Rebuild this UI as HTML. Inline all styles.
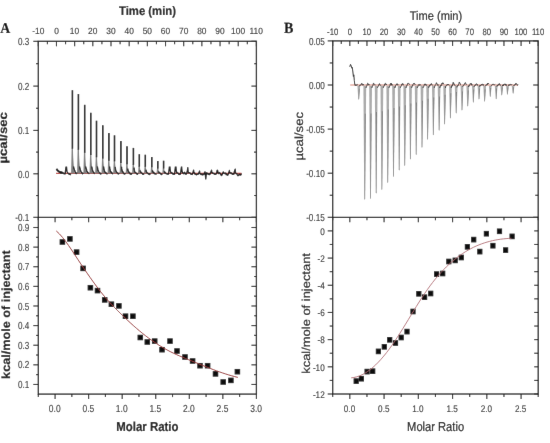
<!DOCTYPE html>
<html><head><meta charset="utf-8"><style>
html,body{margin:0;padding:0;background:#fff;}
body{width:550px;height:443px;overflow:hidden;}
svg{display:block;will-change:transform;text-rendering:geometricPrecision;font-family:"Liberation Sans", sans-serif;}
</style></head><body>
<svg width="550" height="443" viewBox="0 0 550 443">
<defs><filter id="soft" x="0" y="0" width="550" height="443" filterUnits="userSpaceOnUse"><feConvolveMatrix order="3" kernelMatrix="0.0028 0.0470 0.0028 0.0470 0.8008 0.0470 0.0028 0.0470 0.0028" edgeMode="duplicate" preserveAlpha="true"/></filter></defs>
<rect width="550" height="443" fill="#fff"/>
<g filter="url(#soft)">
<rect width="550" height="443" fill="#fff"/>
<rect x="38.3" y="41.3" width="218.1" height="352.8" fill="none" stroke="#222222" stroke-width="1.3"/>
<line x1="38.3" y1="217.3" x2="256.4" y2="217.3" stroke="#222222" stroke-width="1.3"/>
<line x1="38.3" y1="41.3" x2="38.3" y2="46.3" stroke="#222222" stroke-width="1.1"/>
<line x1="47.39" y1="41.3" x2="47.39" y2="44.3" stroke="#222222" stroke-width="1.1"/>
<line x1="56.47" y1="41.3" x2="56.47" y2="46.3" stroke="#222222" stroke-width="1.1"/>
<line x1="65.56" y1="41.3" x2="65.56" y2="44.3" stroke="#222222" stroke-width="1.1"/>
<line x1="74.65" y1="41.3" x2="74.65" y2="46.3" stroke="#222222" stroke-width="1.1"/>
<line x1="83.74" y1="41.3" x2="83.74" y2="44.3" stroke="#222222" stroke-width="1.1"/>
<line x1="92.82" y1="41.3" x2="92.82" y2="46.3" stroke="#222222" stroke-width="1.1"/>
<line x1="101.91" y1="41.3" x2="101.91" y2="44.3" stroke="#222222" stroke-width="1.1"/>
<line x1="111" y1="41.3" x2="111" y2="46.3" stroke="#222222" stroke-width="1.1"/>
<line x1="120.09" y1="41.3" x2="120.09" y2="44.3" stroke="#222222" stroke-width="1.1"/>
<line x1="129.17" y1="41.3" x2="129.17" y2="46.3" stroke="#222222" stroke-width="1.1"/>
<line x1="138.26" y1="41.3" x2="138.26" y2="44.3" stroke="#222222" stroke-width="1.1"/>
<line x1="147.35" y1="41.3" x2="147.35" y2="46.3" stroke="#222222" stroke-width="1.1"/>
<line x1="156.44" y1="41.3" x2="156.44" y2="44.3" stroke="#222222" stroke-width="1.1"/>
<line x1="165.52" y1="41.3" x2="165.52" y2="46.3" stroke="#222222" stroke-width="1.1"/>
<line x1="174.61" y1="41.3" x2="174.61" y2="44.3" stroke="#222222" stroke-width="1.1"/>
<line x1="183.7" y1="41.3" x2="183.7" y2="46.3" stroke="#222222" stroke-width="1.1"/>
<line x1="192.79" y1="41.3" x2="192.79" y2="44.3" stroke="#222222" stroke-width="1.1"/>
<line x1="201.87" y1="41.3" x2="201.87" y2="46.3" stroke="#222222" stroke-width="1.1"/>
<line x1="210.96" y1="41.3" x2="210.96" y2="44.3" stroke="#222222" stroke-width="1.1"/>
<line x1="220.05" y1="41.3" x2="220.05" y2="46.3" stroke="#222222" stroke-width="1.1"/>
<line x1="229.14" y1="41.3" x2="229.14" y2="44.3" stroke="#222222" stroke-width="1.1"/>
<line x1="238.22" y1="41.3" x2="238.22" y2="46.3" stroke="#222222" stroke-width="1.1"/>
<line x1="247.31" y1="41.3" x2="247.31" y2="44.3" stroke="#222222" stroke-width="1.1"/>
<line x1="256.4" y1="41.3" x2="256.4" y2="46.3" stroke="#222222" stroke-width="1.1"/>
<text transform="translate(32.21,34.3) scale(0.9300,1)" font-size="9" fill="#333333" stroke="#333333" stroke-width="0.12" font-weight="normal">-10</text>
<text transform="translate(54.13,34.3) scale(0.9300,1)" font-size="9" fill="#333333" stroke="#333333" stroke-width="0.12" font-weight="normal">0</text>
<text transform="translate(69.84,34.3) scale(0.9300,1)" font-size="9" fill="#333333" stroke="#333333" stroke-width="0.12" font-weight="normal">10</text>
<text transform="translate(88.12,34.3) scale(0.9300,1)" font-size="9" fill="#333333" stroke="#333333" stroke-width="0.12" font-weight="normal">20</text>
<text transform="translate(106.33,34.3) scale(0.9300,1)" font-size="9" fill="#333333" stroke="#333333" stroke-width="0.12" font-weight="normal">30</text>
<text transform="translate(124.59,34.3) scale(0.9300,1)" font-size="9" fill="#333333" stroke="#333333" stroke-width="0.12" font-weight="normal">40</text>
<text transform="translate(142.68,34.3) scale(0.9300,1)" font-size="9" fill="#333333" stroke="#333333" stroke-width="0.12" font-weight="normal">50</text>
<text transform="translate(160.82,34.3) scale(0.9300,1)" font-size="9" fill="#333333" stroke="#333333" stroke-width="0.12" font-weight="normal">60</text>
<text transform="translate(178.99,34.3) scale(0.9300,1)" font-size="9" fill="#333333" stroke="#333333" stroke-width="0.12" font-weight="normal">70</text>
<text transform="translate(197.19,34.3) scale(0.9300,1)" font-size="9" fill="#333333" stroke="#333333" stroke-width="0.12" font-weight="normal">80</text>
<text transform="translate(215.36,34.3) scale(0.9300,1)" font-size="9" fill="#333333" stroke="#333333" stroke-width="0.12" font-weight="normal">90</text>
<text transform="translate(231.09,34.3) scale(0.9300,1)" font-size="9" fill="#333333" stroke="#333333" stroke-width="0.12" font-weight="normal">100</text>
<text transform="translate(249.56,34.3) scale(0.9300,1)" font-size="9" fill="#333333" stroke="#333333" stroke-width="0.12" font-weight="normal">110</text>
<line x1="33.3" y1="41.3" x2="38.3" y2="41.3" stroke="#222222" stroke-width="1.1"/>
<line x1="251.4" y1="41.3" x2="256.4" y2="41.3" stroke="#222222" stroke-width="1.1"/>
<line x1="36" y1="63.7" x2="38.3" y2="63.7" stroke="#222222" stroke-width="1.1"/>
<line x1="254.1" y1="63.7" x2="256.4" y2="63.7" stroke="#222222" stroke-width="1.1"/>
<line x1="33.3" y1="86.1" x2="38.3" y2="86.1" stroke="#222222" stroke-width="1.1"/>
<line x1="251.4" y1="86.1" x2="256.4" y2="86.1" stroke="#222222" stroke-width="1.1"/>
<line x1="36" y1="108.25" x2="38.3" y2="108.25" stroke="#222222" stroke-width="1.1"/>
<line x1="254.1" y1="108.25" x2="256.4" y2="108.25" stroke="#222222" stroke-width="1.1"/>
<line x1="33.3" y1="130.4" x2="38.3" y2="130.4" stroke="#222222" stroke-width="1.1"/>
<line x1="251.4" y1="130.4" x2="256.4" y2="130.4" stroke="#222222" stroke-width="1.1"/>
<line x1="36" y1="152.1" x2="38.3" y2="152.1" stroke="#222222" stroke-width="1.1"/>
<line x1="254.1" y1="152.1" x2="256.4" y2="152.1" stroke="#222222" stroke-width="1.1"/>
<line x1="33.3" y1="173.8" x2="38.3" y2="173.8" stroke="#222222" stroke-width="1.1"/>
<line x1="251.4" y1="173.8" x2="256.4" y2="173.8" stroke="#222222" stroke-width="1.1"/>
<line x1="36" y1="195.55" x2="38.3" y2="195.55" stroke="#222222" stroke-width="1.1"/>
<line x1="254.1" y1="195.55" x2="256.4" y2="195.55" stroke="#222222" stroke-width="1.1"/>
<line x1="33.3" y1="217.3" x2="38.3" y2="217.3" stroke="#222222" stroke-width="1.1"/>
<line x1="251.4" y1="217.3" x2="256.4" y2="217.3" stroke="#222222" stroke-width="1.1"/>
<text transform="translate(18.05,45.32) scale(0.8000,1)" font-size="10.2" fill="#333333" stroke="#333333" stroke-width="0.12" font-weight="normal">0.3</text>
<text transform="translate(18.05,90.12) scale(0.8000,1)" font-size="10.2" fill="#333333" stroke="#333333" stroke-width="0.12" font-weight="normal">0.2</text>
<text transform="translate(18.05,134.42) scale(0.8000,1)" font-size="10.2" fill="#333333" stroke="#333333" stroke-width="0.12" font-weight="normal">0.1</text>
<text transform="translate(18.05,177.82) scale(0.8000,1)" font-size="10.2" fill="#333333" stroke="#333333" stroke-width="0.12" font-weight="normal">0.0</text>
<text transform="translate(15.36,221.32) scale(0.8000,1)" font-size="10.2" fill="#333333" stroke="#333333" stroke-width="0.12" font-weight="normal">-0.1</text>
<line x1="38.3" y1="217.3" x2="38.3" y2="220.3" stroke="#222222" stroke-width="1.1"/>
<line x1="38.3" y1="394.1" x2="38.3" y2="397.1" stroke="#222222" stroke-width="1.1"/>
<line x1="55.08" y1="217.3" x2="55.08" y2="222.3" stroke="#222222" stroke-width="1.1"/>
<line x1="55.08" y1="394.1" x2="55.08" y2="399.1" stroke="#222222" stroke-width="1.1"/>
<line x1="71.85" y1="217.3" x2="71.85" y2="220.3" stroke="#222222" stroke-width="1.1"/>
<line x1="71.85" y1="394.1" x2="71.85" y2="397.1" stroke="#222222" stroke-width="1.1"/>
<line x1="88.63" y1="217.3" x2="88.63" y2="222.3" stroke="#222222" stroke-width="1.1"/>
<line x1="88.63" y1="394.1" x2="88.63" y2="399.1" stroke="#222222" stroke-width="1.1"/>
<line x1="105.41" y1="217.3" x2="105.41" y2="220.3" stroke="#222222" stroke-width="1.1"/>
<line x1="105.41" y1="394.1" x2="105.41" y2="397.1" stroke="#222222" stroke-width="1.1"/>
<line x1="122.18" y1="217.3" x2="122.18" y2="222.3" stroke="#222222" stroke-width="1.1"/>
<line x1="122.18" y1="394.1" x2="122.18" y2="399.1" stroke="#222222" stroke-width="1.1"/>
<line x1="138.96" y1="217.3" x2="138.96" y2="220.3" stroke="#222222" stroke-width="1.1"/>
<line x1="138.96" y1="394.1" x2="138.96" y2="397.1" stroke="#222222" stroke-width="1.1"/>
<line x1="155.74" y1="217.3" x2="155.74" y2="222.3" stroke="#222222" stroke-width="1.1"/>
<line x1="155.74" y1="394.1" x2="155.74" y2="399.1" stroke="#222222" stroke-width="1.1"/>
<line x1="172.52" y1="217.3" x2="172.52" y2="220.3" stroke="#222222" stroke-width="1.1"/>
<line x1="172.52" y1="394.1" x2="172.52" y2="397.1" stroke="#222222" stroke-width="1.1"/>
<line x1="189.29" y1="217.3" x2="189.29" y2="222.3" stroke="#222222" stroke-width="1.1"/>
<line x1="189.29" y1="394.1" x2="189.29" y2="399.1" stroke="#222222" stroke-width="1.1"/>
<line x1="206.07" y1="217.3" x2="206.07" y2="220.3" stroke="#222222" stroke-width="1.1"/>
<line x1="206.07" y1="394.1" x2="206.07" y2="397.1" stroke="#222222" stroke-width="1.1"/>
<line x1="222.85" y1="217.3" x2="222.85" y2="222.3" stroke="#222222" stroke-width="1.1"/>
<line x1="222.85" y1="394.1" x2="222.85" y2="399.1" stroke="#222222" stroke-width="1.1"/>
<line x1="239.62" y1="217.3" x2="239.62" y2="220.3" stroke="#222222" stroke-width="1.1"/>
<line x1="239.62" y1="394.1" x2="239.62" y2="397.1" stroke="#222222" stroke-width="1.1"/>
<line x1="256.4" y1="217.3" x2="256.4" y2="222.3" stroke="#222222" stroke-width="1.1"/>
<line x1="256.4" y1="394.1" x2="256.4" y2="399.1" stroke="#222222" stroke-width="1.1"/>
<line x1="33.3" y1="227.5" x2="38.3" y2="227.5" stroke="#222222" stroke-width="1.1"/>
<line x1="251.4" y1="227.5" x2="256.4" y2="227.5" stroke="#222222" stroke-width="1.1"/>
<line x1="36" y1="237.31" x2="38.3" y2="237.31" stroke="#222222" stroke-width="1.1"/>
<line x1="254.1" y1="237.31" x2="256.4" y2="237.31" stroke="#222222" stroke-width="1.1"/>
<line x1="33.3" y1="247.12" x2="38.3" y2="247.12" stroke="#222222" stroke-width="1.1"/>
<line x1="251.4" y1="247.12" x2="256.4" y2="247.12" stroke="#222222" stroke-width="1.1"/>
<line x1="36" y1="256.93" x2="38.3" y2="256.93" stroke="#222222" stroke-width="1.1"/>
<line x1="254.1" y1="256.93" x2="256.4" y2="256.93" stroke="#222222" stroke-width="1.1"/>
<line x1="33.3" y1="266.74" x2="38.3" y2="266.74" stroke="#222222" stroke-width="1.1"/>
<line x1="251.4" y1="266.74" x2="256.4" y2="266.74" stroke="#222222" stroke-width="1.1"/>
<line x1="36" y1="276.55" x2="38.3" y2="276.55" stroke="#222222" stroke-width="1.1"/>
<line x1="254.1" y1="276.55" x2="256.4" y2="276.55" stroke="#222222" stroke-width="1.1"/>
<line x1="33.3" y1="286.36" x2="38.3" y2="286.36" stroke="#222222" stroke-width="1.1"/>
<line x1="251.4" y1="286.36" x2="256.4" y2="286.36" stroke="#222222" stroke-width="1.1"/>
<line x1="36" y1="296.17" x2="38.3" y2="296.17" stroke="#222222" stroke-width="1.1"/>
<line x1="254.1" y1="296.17" x2="256.4" y2="296.17" stroke="#222222" stroke-width="1.1"/>
<line x1="33.3" y1="305.98" x2="38.3" y2="305.98" stroke="#222222" stroke-width="1.1"/>
<line x1="251.4" y1="305.98" x2="256.4" y2="305.98" stroke="#222222" stroke-width="1.1"/>
<line x1="36" y1="315.79" x2="38.3" y2="315.79" stroke="#222222" stroke-width="1.1"/>
<line x1="254.1" y1="315.79" x2="256.4" y2="315.79" stroke="#222222" stroke-width="1.1"/>
<line x1="33.3" y1="325.6" x2="38.3" y2="325.6" stroke="#222222" stroke-width="1.1"/>
<line x1="251.4" y1="325.6" x2="256.4" y2="325.6" stroke="#222222" stroke-width="1.1"/>
<line x1="36" y1="335.41" x2="38.3" y2="335.41" stroke="#222222" stroke-width="1.1"/>
<line x1="254.1" y1="335.41" x2="256.4" y2="335.41" stroke="#222222" stroke-width="1.1"/>
<line x1="33.3" y1="345.22" x2="38.3" y2="345.22" stroke="#222222" stroke-width="1.1"/>
<line x1="251.4" y1="345.22" x2="256.4" y2="345.22" stroke="#222222" stroke-width="1.1"/>
<line x1="36" y1="355.03" x2="38.3" y2="355.03" stroke="#222222" stroke-width="1.1"/>
<line x1="254.1" y1="355.03" x2="256.4" y2="355.03" stroke="#222222" stroke-width="1.1"/>
<line x1="33.3" y1="364.84" x2="38.3" y2="364.84" stroke="#222222" stroke-width="1.1"/>
<line x1="251.4" y1="364.84" x2="256.4" y2="364.84" stroke="#222222" stroke-width="1.1"/>
<line x1="36" y1="374.65" x2="38.3" y2="374.65" stroke="#222222" stroke-width="1.1"/>
<line x1="254.1" y1="374.65" x2="256.4" y2="374.65" stroke="#222222" stroke-width="1.1"/>
<line x1="33.3" y1="384.46" x2="38.3" y2="384.46" stroke="#222222" stroke-width="1.1"/>
<line x1="251.4" y1="384.46" x2="256.4" y2="384.46" stroke="#222222" stroke-width="1.1"/>
<text transform="translate(18.05,231.12) scale(0.8000,1)" font-size="10.2" fill="#333333" stroke="#333333" stroke-width="0.12" font-weight="normal">0.9</text>
<text transform="translate(18.05,250.74) scale(0.8000,1)" font-size="10.2" fill="#333333" stroke="#333333" stroke-width="0.12" font-weight="normal">0.8</text>
<text transform="translate(18.05,270.36) scale(0.8000,1)" font-size="10.2" fill="#333333" stroke="#333333" stroke-width="0.12" font-weight="normal">0.7</text>
<text transform="translate(18.05,289.98) scale(0.8000,1)" font-size="10.2" fill="#333333" stroke="#333333" stroke-width="0.12" font-weight="normal">0.6</text>
<text transform="translate(18.05,309.6) scale(0.8000,1)" font-size="10.2" fill="#333333" stroke="#333333" stroke-width="0.12" font-weight="normal">0.5</text>
<text transform="translate(18.05,329.22) scale(0.8000,1)" font-size="10.2" fill="#333333" stroke="#333333" stroke-width="0.12" font-weight="normal">0.4</text>
<text transform="translate(18.05,348.84) scale(0.8000,1)" font-size="10.2" fill="#333333" stroke="#333333" stroke-width="0.12" font-weight="normal">0.3</text>
<text transform="translate(18.05,368.46) scale(0.8000,1)" font-size="10.2" fill="#333333" stroke="#333333" stroke-width="0.12" font-weight="normal">0.2</text>
<text transform="translate(18.05,388.08) scale(0.8000,1)" font-size="10.2" fill="#333333" stroke="#333333" stroke-width="0.12" font-weight="normal">0.1</text>
<text transform="translate(48.87,411.72) scale(0.8300,1)" font-size="10.2" fill="#333333" stroke="#333333" stroke-width="0.12" font-weight="normal">0.0</text>
<text transform="translate(82.45,411.72) scale(0.8300,1)" font-size="10.2" fill="#333333" stroke="#333333" stroke-width="0.12" font-weight="normal">0.5</text>
<text transform="translate(115.83,411.72) scale(0.8300,1)" font-size="10.2" fill="#333333" stroke="#333333" stroke-width="0.12" font-weight="normal">1.0</text>
<text transform="translate(149.41,411.67) scale(0.8300,1)" font-size="10.2" fill="#333333" stroke="#333333" stroke-width="0.12" font-weight="normal">1.5</text>
<text transform="translate(183.04,411.72) scale(0.8300,1)" font-size="10.2" fill="#333333" stroke="#333333" stroke-width="0.12" font-weight="normal">2.0</text>
<text transform="translate(216.62,411.72) scale(0.8300,1)" font-size="10.2" fill="#333333" stroke="#333333" stroke-width="0.12" font-weight="normal">2.5</text>
<text transform="translate(250.19,411.72) scale(0.8300,1)" font-size="10.2" fill="#333333" stroke="#333333" stroke-width="0.12" font-weight="normal">3.0</text>
<text transform="translate(118.99,14.5) scale(0.9123,1)" font-family='"Liberation Sans", sans-serif' font-weight="bold" font-size="12.41" fill="#1a1a1a" stroke="#1a1a1a" stroke-width="0.2">Time (min)</text>
<text transform="translate(116.26,431.4) scale(0.8732,1)" font-family='"Liberation Sans", sans-serif' font-weight="bold" font-size="13.1" fill="#1a1a1a" stroke="#1a1a1a" stroke-width="0.2">Molar Ratio</text>
<text transform="translate(7.1,163.56) rotate(-90) scale(1,0.8930)" font-family='"Liberation Sans", sans-serif' font-weight="bold" font-size="13.16" fill="#1a1a1a" stroke="#1a1a1a" stroke-width="0.2">µcal/sec</text>
<text transform="translate(10.2,378.89) rotate(-90) scale(1,0.9312)" font-family='"Liberation Sans", sans-serif' font-weight="bold" font-size="12.67" fill="#1a1a1a" stroke="#1a1a1a" stroke-width="0.2">kcal/mole of injectant</text>
<text transform="translate(0.31,32.7) scale(0.9128,1)" font-family='"Liberation Serif", serif' font-weight="bold" font-size="15.15" fill="#111" stroke="#111" stroke-width="0.2">A</text>
<rect x="332.7" y="40.9" width="205.5" height="353.1" fill="none" stroke="#222222" stroke-width="1.3"/>
<line x1="332.7" y1="217.3" x2="538.2" y2="217.3" stroke="#222222" stroke-width="1.3"/>
<line x1="332.7" y1="40.9" x2="332.7" y2="45.9" stroke="#222222" stroke-width="1.1"/>
<line x1="341.26" y1="40.9" x2="341.26" y2="43.9" stroke="#222222" stroke-width="1.1"/>
<line x1="349.82" y1="40.9" x2="349.82" y2="45.9" stroke="#222222" stroke-width="1.1"/>
<line x1="358.39" y1="40.9" x2="358.39" y2="43.9" stroke="#222222" stroke-width="1.1"/>
<line x1="366.95" y1="40.9" x2="366.95" y2="45.9" stroke="#222222" stroke-width="1.1"/>
<line x1="375.51" y1="40.9" x2="375.51" y2="43.9" stroke="#222222" stroke-width="1.1"/>
<line x1="384.07" y1="40.9" x2="384.07" y2="45.9" stroke="#222222" stroke-width="1.1"/>
<line x1="392.64" y1="40.9" x2="392.64" y2="43.9" stroke="#222222" stroke-width="1.1"/>
<line x1="401.2" y1="40.9" x2="401.2" y2="45.9" stroke="#222222" stroke-width="1.1"/>
<line x1="409.76" y1="40.9" x2="409.76" y2="43.9" stroke="#222222" stroke-width="1.1"/>
<line x1="418.33" y1="40.9" x2="418.33" y2="45.9" stroke="#222222" stroke-width="1.1"/>
<line x1="426.89" y1="40.9" x2="426.89" y2="43.9" stroke="#222222" stroke-width="1.1"/>
<line x1="435.45" y1="40.9" x2="435.45" y2="45.9" stroke="#222222" stroke-width="1.1"/>
<line x1="444.01" y1="40.9" x2="444.01" y2="43.9" stroke="#222222" stroke-width="1.1"/>
<line x1="452.58" y1="40.9" x2="452.58" y2="45.9" stroke="#222222" stroke-width="1.1"/>
<line x1="461.14" y1="40.9" x2="461.14" y2="43.9" stroke="#222222" stroke-width="1.1"/>
<line x1="469.7" y1="40.9" x2="469.7" y2="45.9" stroke="#222222" stroke-width="1.1"/>
<line x1="478.26" y1="40.9" x2="478.26" y2="43.9" stroke="#222222" stroke-width="1.1"/>
<line x1="486.83" y1="40.9" x2="486.83" y2="45.9" stroke="#222222" stroke-width="1.1"/>
<line x1="495.39" y1="40.9" x2="495.39" y2="43.9" stroke="#222222" stroke-width="1.1"/>
<line x1="503.95" y1="40.9" x2="503.95" y2="45.9" stroke="#222222" stroke-width="1.1"/>
<line x1="512.51" y1="40.9" x2="512.51" y2="43.9" stroke="#222222" stroke-width="1.1"/>
<line x1="521.08" y1="40.9" x2="521.08" y2="45.9" stroke="#222222" stroke-width="1.1"/>
<line x1="529.64" y1="40.9" x2="529.64" y2="43.9" stroke="#222222" stroke-width="1.1"/>
<line x1="538.2" y1="40.9" x2="538.2" y2="45.9" stroke="#222222" stroke-width="1.1"/>
<text transform="translate(327.08,35.41) scale(0.8300,1)" font-size="9.3" fill="#333333" stroke="#333333" stroke-width="0.12" font-weight="normal">-10</text>
<text transform="translate(347.66,35.41) scale(0.8300,1)" font-size="9.3" fill="#333333" stroke="#333333" stroke-width="0.12" font-weight="normal">0</text>
<text transform="translate(362.51,35.41) scale(0.8300,1)" font-size="9.3" fill="#333333" stroke="#333333" stroke-width="0.12" font-weight="normal">10</text>
<text transform="translate(379.73,35.41) scale(0.8300,1)" font-size="9.3" fill="#333333" stroke="#333333" stroke-width="0.12" font-weight="normal">20</text>
<text transform="translate(396.9,35.41) scale(0.8300,1)" font-size="9.3" fill="#333333" stroke="#333333" stroke-width="0.12" font-weight="normal">30</text>
<text transform="translate(414.1,35.41) scale(0.8300,1)" font-size="9.3" fill="#333333" stroke="#333333" stroke-width="0.12" font-weight="normal">40</text>
<text transform="translate(431.15,35.41) scale(0.8300,1)" font-size="9.3" fill="#333333" stroke="#333333" stroke-width="0.12" font-weight="normal">50</text>
<text transform="translate(448.23,35.41) scale(0.8300,1)" font-size="9.3" fill="#333333" stroke="#333333" stroke-width="0.12" font-weight="normal">60</text>
<text transform="translate(465.36,35.41) scale(0.8300,1)" font-size="9.3" fill="#333333" stroke="#333333" stroke-width="0.12" font-weight="normal">70</text>
<text transform="translate(482.5,35.41) scale(0.8300,1)" font-size="9.3" fill="#333333" stroke="#333333" stroke-width="0.12" font-weight="normal">80</text>
<text transform="translate(499.63,35.41) scale(0.8300,1)" font-size="9.3" fill="#333333" stroke="#333333" stroke-width="0.12" font-weight="normal">90</text>
<text transform="translate(514.49,35.41) scale(0.8300,1)" font-size="9.3" fill="#333333" stroke="#333333" stroke-width="0.12" font-weight="normal">100</text>
<text transform="translate(531.89,35.41) scale(0.8300,1)" font-size="9.3" fill="#333333" stroke="#333333" stroke-width="0.12" font-weight="normal">110</text>
<line x1="327.7" y1="40.9" x2="332.7" y2="40.9" stroke="#222222" stroke-width="1.1"/>
<line x1="533.2" y1="40.9" x2="538.2" y2="40.9" stroke="#222222" stroke-width="1.1"/>
<line x1="329.7" y1="62.95" x2="332.7" y2="62.95" stroke="#222222" stroke-width="1.1"/>
<line x1="535.2" y1="62.95" x2="538.2" y2="62.95" stroke="#222222" stroke-width="1.1"/>
<line x1="327.7" y1="85" x2="332.7" y2="85" stroke="#222222" stroke-width="1.1"/>
<line x1="533.2" y1="85" x2="538.2" y2="85" stroke="#222222" stroke-width="1.1"/>
<line x1="329.7" y1="107.05" x2="332.7" y2="107.05" stroke="#222222" stroke-width="1.1"/>
<line x1="535.2" y1="107.05" x2="538.2" y2="107.05" stroke="#222222" stroke-width="1.1"/>
<line x1="327.7" y1="129.1" x2="332.7" y2="129.1" stroke="#222222" stroke-width="1.1"/>
<line x1="533.2" y1="129.1" x2="538.2" y2="129.1" stroke="#222222" stroke-width="1.1"/>
<line x1="329.7" y1="151.15" x2="332.7" y2="151.15" stroke="#222222" stroke-width="1.1"/>
<line x1="535.2" y1="151.15" x2="538.2" y2="151.15" stroke="#222222" stroke-width="1.1"/>
<line x1="327.7" y1="173.2" x2="332.7" y2="173.2" stroke="#222222" stroke-width="1.1"/>
<line x1="533.2" y1="173.2" x2="538.2" y2="173.2" stroke="#222222" stroke-width="1.1"/>
<line x1="329.7" y1="195.25" x2="332.7" y2="195.25" stroke="#222222" stroke-width="1.1"/>
<line x1="535.2" y1="195.25" x2="538.2" y2="195.25" stroke="#222222" stroke-width="1.1"/>
<line x1="327.7" y1="217.3" x2="332.7" y2="217.3" stroke="#222222" stroke-width="1.1"/>
<line x1="533.2" y1="217.3" x2="538.2" y2="217.3" stroke="#222222" stroke-width="1.1"/>
<text transform="translate(308.88,44.98) scale(0.8100,1)" font-size="10.1" fill="#333333" stroke="#333333" stroke-width="0.12" font-weight="normal">0.05</text>
<text transform="translate(308.88,89.08) scale(0.8100,1)" font-size="10.1" fill="#333333" stroke="#333333" stroke-width="0.12" font-weight="normal">0.00</text>
<text transform="translate(306.14,133.18) scale(0.8100,1)" font-size="10.1" fill="#333333" stroke="#333333" stroke-width="0.12" font-weight="normal">-0.05</text>
<text transform="translate(306.14,177.28) scale(0.8100,1)" font-size="10.1" fill="#333333" stroke="#333333" stroke-width="0.12" font-weight="normal">-0.10</text>
<text transform="translate(306.14,221.38) scale(0.8100,1)" font-size="10.1" fill="#333333" stroke="#333333" stroke-width="0.12" font-weight="normal">-0.15</text>
<line x1="332.7" y1="217.3" x2="332.7" y2="220.3" stroke="#222222" stroke-width="1.1"/>
<line x1="332.7" y1="394" x2="332.7" y2="397" stroke="#222222" stroke-width="1.1"/>
<line x1="349.82" y1="217.3" x2="349.82" y2="222.3" stroke="#222222" stroke-width="1.1"/>
<line x1="349.82" y1="394" x2="349.82" y2="399" stroke="#222222" stroke-width="1.1"/>
<line x1="366.95" y1="217.3" x2="366.95" y2="220.3" stroke="#222222" stroke-width="1.1"/>
<line x1="366.95" y1="394" x2="366.95" y2="397" stroke="#222222" stroke-width="1.1"/>
<line x1="384.07" y1="217.3" x2="384.07" y2="222.3" stroke="#222222" stroke-width="1.1"/>
<line x1="384.07" y1="394" x2="384.07" y2="399" stroke="#222222" stroke-width="1.1"/>
<line x1="401.2" y1="217.3" x2="401.2" y2="220.3" stroke="#222222" stroke-width="1.1"/>
<line x1="401.2" y1="394" x2="401.2" y2="397" stroke="#222222" stroke-width="1.1"/>
<line x1="418.32" y1="217.3" x2="418.32" y2="222.3" stroke="#222222" stroke-width="1.1"/>
<line x1="418.32" y1="394" x2="418.32" y2="399" stroke="#222222" stroke-width="1.1"/>
<line x1="435.45" y1="217.3" x2="435.45" y2="220.3" stroke="#222222" stroke-width="1.1"/>
<line x1="435.45" y1="394" x2="435.45" y2="397" stroke="#222222" stroke-width="1.1"/>
<line x1="452.58" y1="217.3" x2="452.58" y2="222.3" stroke="#222222" stroke-width="1.1"/>
<line x1="452.58" y1="394" x2="452.58" y2="399" stroke="#222222" stroke-width="1.1"/>
<line x1="469.7" y1="217.3" x2="469.7" y2="220.3" stroke="#222222" stroke-width="1.1"/>
<line x1="469.7" y1="394" x2="469.7" y2="397" stroke="#222222" stroke-width="1.1"/>
<line x1="486.83" y1="217.3" x2="486.83" y2="222.3" stroke="#222222" stroke-width="1.1"/>
<line x1="486.83" y1="394" x2="486.83" y2="399" stroke="#222222" stroke-width="1.1"/>
<line x1="503.95" y1="217.3" x2="503.95" y2="220.3" stroke="#222222" stroke-width="1.1"/>
<line x1="503.95" y1="394" x2="503.95" y2="397" stroke="#222222" stroke-width="1.1"/>
<line x1="521.08" y1="217.3" x2="521.08" y2="222.3" stroke="#222222" stroke-width="1.1"/>
<line x1="521.08" y1="394" x2="521.08" y2="399" stroke="#222222" stroke-width="1.1"/>
<line x1="538.2" y1="217.3" x2="538.2" y2="220.3" stroke="#222222" stroke-width="1.1"/>
<line x1="538.2" y1="394" x2="538.2" y2="397" stroke="#222222" stroke-width="1.1"/>
<line x1="327.7" y1="230.89" x2="332.7" y2="230.89" stroke="#222222" stroke-width="1.1"/>
<line x1="534.2" y1="230.89" x2="538.2" y2="230.89" stroke="#222222" stroke-width="1.1"/>
<line x1="329.7" y1="244.48" x2="332.7" y2="244.48" stroke="#222222" stroke-width="1.1"/>
<line x1="534.2" y1="244.48" x2="538.2" y2="244.48" stroke="#222222" stroke-width="1.1"/>
<line x1="327.7" y1="258.08" x2="332.7" y2="258.08" stroke="#222222" stroke-width="1.1"/>
<line x1="534.2" y1="258.08" x2="538.2" y2="258.08" stroke="#222222" stroke-width="1.1"/>
<line x1="329.7" y1="271.67" x2="332.7" y2="271.67" stroke="#222222" stroke-width="1.1"/>
<line x1="534.2" y1="271.67" x2="538.2" y2="271.67" stroke="#222222" stroke-width="1.1"/>
<line x1="327.7" y1="285.26" x2="332.7" y2="285.26" stroke="#222222" stroke-width="1.1"/>
<line x1="534.2" y1="285.26" x2="538.2" y2="285.26" stroke="#222222" stroke-width="1.1"/>
<line x1="329.7" y1="298.85" x2="332.7" y2="298.85" stroke="#222222" stroke-width="1.1"/>
<line x1="534.2" y1="298.85" x2="538.2" y2="298.85" stroke="#222222" stroke-width="1.1"/>
<line x1="327.7" y1="312.45" x2="332.7" y2="312.45" stroke="#222222" stroke-width="1.1"/>
<line x1="534.2" y1="312.45" x2="538.2" y2="312.45" stroke="#222222" stroke-width="1.1"/>
<line x1="329.7" y1="326.04" x2="332.7" y2="326.04" stroke="#222222" stroke-width="1.1"/>
<line x1="534.2" y1="326.04" x2="538.2" y2="326.04" stroke="#222222" stroke-width="1.1"/>
<line x1="327.7" y1="339.63" x2="332.7" y2="339.63" stroke="#222222" stroke-width="1.1"/>
<line x1="534.2" y1="339.63" x2="538.2" y2="339.63" stroke="#222222" stroke-width="1.1"/>
<line x1="329.7" y1="353.22" x2="332.7" y2="353.22" stroke="#222222" stroke-width="1.1"/>
<line x1="534.2" y1="353.22" x2="538.2" y2="353.22" stroke="#222222" stroke-width="1.1"/>
<line x1="327.7" y1="366.82" x2="332.7" y2="366.82" stroke="#222222" stroke-width="1.1"/>
<line x1="534.2" y1="366.82" x2="538.2" y2="366.82" stroke="#222222" stroke-width="1.1"/>
<line x1="329.7" y1="380.41" x2="332.7" y2="380.41" stroke="#222222" stroke-width="1.1"/>
<line x1="534.2" y1="380.41" x2="538.2" y2="380.41" stroke="#222222" stroke-width="1.1"/>
<line x1="327.7" y1="394" x2="332.7" y2="394" stroke="#222222" stroke-width="1.1"/>
<line x1="534.2" y1="394" x2="538.2" y2="394" stroke="#222222" stroke-width="1.1"/>
<text transform="translate(320.16,234.7) scale(0.8500,1)" font-size="9.6" fill="#333333" stroke="#333333" stroke-width="0.12" font-weight="normal">0</text>
<text transform="translate(317.43,261.94) scale(0.8500,1)" font-size="9.6" fill="#333333" stroke="#333333" stroke-width="0.12" font-weight="normal">-2</text>
<text transform="translate(317.43,289.07) scale(0.8500,1)" font-size="9.6" fill="#333333" stroke="#333333" stroke-width="0.12" font-weight="normal">-4</text>
<text transform="translate(317.43,316.26) scale(0.8500,1)" font-size="9.6" fill="#333333" stroke="#333333" stroke-width="0.12" font-weight="normal">-6</text>
<text transform="translate(317.43,343.44) scale(0.8500,1)" font-size="9.6" fill="#333333" stroke="#333333" stroke-width="0.12" font-weight="normal">-8</text>
<text transform="translate(312.9,370.63) scale(0.8500,1)" font-size="9.6" fill="#333333" stroke="#333333" stroke-width="0.12" font-weight="normal">-10</text>
<text transform="translate(312.9,397.86) scale(0.8500,1)" font-size="9.6" fill="#333333" stroke="#333333" stroke-width="0.12" font-weight="normal">-12</text>
<text transform="translate(343.83,411.61) scale(0.8500,1)" font-size="9.6" fill="#333333" stroke="#333333" stroke-width="0.12" font-weight="normal">0.0</text>
<text transform="translate(378.1,411.61) scale(0.8500,1)" font-size="9.6" fill="#333333" stroke="#333333" stroke-width="0.12" font-weight="normal">0.5</text>
<text transform="translate(412.19,411.61) scale(0.8500,1)" font-size="9.6" fill="#333333" stroke="#333333" stroke-width="0.12" font-weight="normal">1.0</text>
<text transform="translate(446.46,411.56) scale(0.8500,1)" font-size="9.6" fill="#333333" stroke="#333333" stroke-width="0.12" font-weight="normal">1.5</text>
<text transform="translate(480.79,411.61) scale(0.8500,1)" font-size="9.6" fill="#333333" stroke="#333333" stroke-width="0.12" font-weight="normal">2.0</text>
<text transform="translate(515.06,411.61) scale(0.8500,1)" font-size="9.6" fill="#333333" stroke="#333333" stroke-width="0.12" font-weight="normal">2.5</text>
<text transform="translate(409.78,20.4) scale(0.8814,1)" font-family='"Liberation Sans", sans-serif' font-weight="normal" font-size="12.55" fill="#1a1a1a" stroke="#1a1a1a" stroke-width="0.2">Time (min)</text>
<text transform="translate(407.11,430.6) scale(0.8594,1)" font-family='"Liberation Sans", sans-serif' font-weight="normal" font-size="12.97" fill="#1a1a1a" stroke="#1a1a1a" stroke-width="0.2">Molar Ratio</text>
<text transform="translate(302.8,160.62) rotate(-90) scale(1,0.8893)" font-family='"Liberation Sans", sans-serif' font-weight="normal" font-size="13.21" fill="#1a1a1a" stroke="#1a1a1a" stroke-width="0.2">µcal/sec</text>
<text transform="translate(309.9,373.74) rotate(-90) scale(1,0.8894)" font-family='"Liberation Sans", sans-serif' font-weight="normal" font-size="12.93" fill="#1a1a1a" stroke="#1a1a1a" stroke-width="0.2">kcal/mole of injectant</text>
<text transform="translate(284.09,32.7) scale(0.9042,1)" font-family='"Liberation Serif", serif' font-weight="bold" font-size="15.57" fill="#111" stroke="#111" stroke-width="0.2">B</text>
<line x1="56" y1="173.4" x2="241.5" y2="173.4" stroke="#c0453f" stroke-width="1.2"/>
<defs><clipPath id="cA"><rect x="0" y="166.5" width="550" height="40"/></clipPath><clipPath id="cB"><rect x="0" y="0" width="550" height="88"/></clipPath></defs>
<path d="M71.1,173.5 L71.17,170.33 L71.24,167.17 L71.31,164 L71.38,160.84 L71.44,157.67 L71.51,154.51 L71.58,151.34 L71.65,148.18 L73,148.18 L73.03,151.34 L73.1,154.51 L73.23,157.67 L73.4,160.84 L73.62,164 L73.9,167.17 L74.23,170.33 L74.6,173.5 Z" fill="#7e7e7e"/>
<line x1="72.4" y1="148.68" x2="72.4" y2="90.2" stroke="#111" stroke-width="1.55"/>
<path d="M77.1,173.5 L77.17,170.47 L77.24,167.44 L77.31,164.4 L77.38,161.37 L77.44,158.34 L77.51,155.31 L77.58,152.27 L77.65,149.24 L79,149.24 L79.03,152.27 L79.1,155.31 L79.23,158.34 L79.4,161.37 L79.62,164.4 L79.9,167.44 L80.23,170.47 L80.6,173.5 Z" fill="#7e7e7e"/>
<line x1="78.4" y1="149.74" x2="78.4" y2="94" stroke="#111" stroke-width="1.55"/>
<path d="M83.4,173.5 L83.47,170.85 L83.54,168.19 L83.61,165.54 L83.67,162.88 L83.74,160.23 L83.81,157.57 L83.88,154.92 L83.95,152.26 L85.3,152.26 L85.33,154.92 L85.4,157.57 L85.53,160.23 L85.7,162.88 L85.92,165.54 L86.2,168.19 L86.53,170.85 L86.9,173.5 Z" fill="#7e7e7e"/>
<line x1="84.7" y1="152.76" x2="84.7" y2="104.8" stroke="#111" stroke-width="1.55"/>
<path d="M89.5,173.5 L89.57,171.13 L89.64,168.75 L89.71,166.38 L89.77,164 L89.84,161.63 L89.91,159.25 L89.98,156.88 L90.05,154.5 L91.4,154.5 L91.42,156.88 L91.5,159.25 L91.62,161.63 L91.8,164 L92.02,166.38 L92.3,168.75 L92.62,171.13 L93,173.5 Z" fill="#7e7e7e"/>
<line x1="90.8" y1="155" x2="90.8" y2="112.8" stroke="#111" stroke-width="1.55"/>
<path d="M95.2,173.5 L95.27,171.4 L95.34,169.3 L95.41,167.21 L95.47,165.11 L95.54,163.01 L95.61,160.91 L95.68,158.81 L95.75,156.72 L97.1,156.72 L97.12,158.81 L97.2,160.91 L97.33,163.01 L97.5,165.11 L97.72,167.21 L98,169.3 L98.33,171.4 L98.7,173.5 Z" fill="#7e7e7e"/>
<line x1="96.5" y1="157.22" x2="96.5" y2="120.7" stroke="#111" stroke-width="1.55"/>
<path d="M101.5,173.5 L101.57,171.56 L101.64,169.62 L101.71,167.68 L101.77,165.74 L101.84,163.8 L101.91,161.86 L101.98,159.92 L102.05,157.98 L103.4,157.98 L103.42,159.92 L103.5,161.86 L103.62,163.8 L103.8,165.74 L104.02,167.68 L104.3,169.62 L104.62,171.56 L105,173.5 Z" fill="#7e7e7e"/>
<line x1="102.8" y1="158.48" x2="102.8" y2="125.2" stroke="#111" stroke-width="1.55"/>
<path d="M107.6,173.5 L107.67,171.84 L107.74,170.17 L107.81,168.51 L107.88,166.84 L107.94,165.18 L108.01,163.52 L108.08,161.85 L108.15,160.19 L109.5,160.19 L109.53,161.85 L109.6,163.52 L109.73,165.18 L109.9,166.84 L110.12,168.51 L110.4,170.17 L110.73,171.84 L111.1,173.5 Z" fill="#7e7e7e"/>
<line x1="108.9" y1="160.69" x2="108.9" y2="133.1" stroke="#111" stroke-width="1.55"/>
<path d="M113.2,173.5 L113.27,171.91 L113.34,170.33 L113.41,168.74 L113.47,167.15 L113.54,165.56 L113.61,163.98 L113.68,162.39 L113.75,160.8 L115.1,160.8 L115.12,162.39 L115.2,163.98 L115.33,165.56 L115.5,167.15 L115.72,168.74 L116,170.33 L116.33,171.91 L116.7,173.5 Z" fill="#7e7e7e"/>
<line x1="114.5" y1="161.3" x2="114.5" y2="135.3" stroke="#111" stroke-width="1.55"/>
<path d="M119.6,173.5 L119.67,172.11 L119.74,170.72 L119.81,169.34 L119.88,167.95 L119.94,166.56 L120.01,165.18 L120.08,163.79 L120.15,162.4 L121.5,162.4 L121.53,163.79 L121.6,165.18 L121.73,166.56 L121.9,167.95 L122.12,169.34 L122.4,170.72 L122.73,172.11 L123.1,173.5 Z" fill="#7e7e7e"/>
<line x1="120.9" y1="162.9" x2="120.9" y2="141" stroke="#111" stroke-width="1.55"/>
<path d="M125.7,173.5 L125.77,172.29 L125.84,171.09 L125.91,169.88 L125.97,168.68 L126.04,167.47 L126.11,166.27 L126.18,165.06 L126.25,163.86 L127.6,163.86 L127.62,165.06 L127.7,166.27 L127.83,167.47 L128,168.68 L128.22,169.88 L128.5,171.09 L128.82,172.29 L129.2,173.5 Z" fill="#7e7e7e"/>
<line x1="127" y1="164.36" x2="127" y2="146.2" stroke="#111" stroke-width="1.55"/>
<path d="M132.1,173.5 L132.17,172.35 L132.24,171.21 L132.31,170.06 L132.38,168.92 L132.44,167.77 L132.51,166.62 L132.58,165.48 L132.65,164.33 L134,164.33 L134.03,165.48 L134.1,166.62 L134.22,167.77 L134.4,168.92 L134.62,170.06 L134.9,171.21 L135.22,172.35 L135.6,173.5 Z" fill="#7e7e7e"/>
<line x1="133.4" y1="164.83" x2="133.4" y2="147.9" stroke="#111" stroke-width="1.55"/>
<path d="M138,173.5 L138.07,172.57 L138.14,171.65 L138.21,170.72 L138.28,169.8 L138.34,168.87 L138.41,167.95 L138.48,167.02 L138.55,166.1 L139.9,166.1 L139.93,167.02 L140,167.95 L140.12,168.87 L140.3,169.8 L140.53,170.72 L140.8,171.65 L141.12,172.57 L141.5,173.5 Z" fill="#7e7e7e"/>
<line x1="139.3" y1="166.6" x2="139.3" y2="154.2" stroke="#111" stroke-width="1.55"/>
<path d="M144,173.5 L144.07,172.59 L144.14,171.68 L144.21,170.78 L144.28,169.87 L144.34,168.96 L144.41,168.05 L144.48,167.14 L144.55,166.24 L145.9,166.24 L145.93,167.14 L146,168.05 L146.12,168.96 L146.3,169.87 L146.53,170.78 L146.8,171.68 L147.12,172.59 L147.5,173.5 Z" fill="#7e7e7e"/>
<line x1="145.3" y1="166.74" x2="145.3" y2="154.7" stroke="#111" stroke-width="1.55"/>
<path d="M150.5,173.5 L150.57,172.67 L150.64,171.84 L150.71,171.01 L150.78,170.18 L150.84,169.34 L150.91,168.51 L150.98,167.68 L151.05,166.85 L152.4,166.85 L152.43,167.68 L152.5,168.51 L152.62,169.34 L152.8,170.18 L153.03,171.01 L153.3,171.84 L153.62,172.67 L154,173.5 Z" fill="#7e7e7e"/>
<line x1="151.8" y1="167.35" x2="151.8" y2="156.9" stroke="#111" stroke-width="1.55"/>
<path d="M156.5,173.5 L156.57,172.81 L156.64,172.12 L156.71,171.43 L156.78,170.74 L156.84,170.04 L156.91,169.35 L156.98,168.66 L157.05,167.97 L158.4,167.97 L158.43,168.66 L158.5,169.35 L158.62,170.04 L158.8,170.74 L159.03,171.43 L159.3,172.12 L159.62,172.81 L160,173.5 Z" fill="#7e7e7e"/>
<line x1="157.8" y1="168.47" x2="157.8" y2="160.9" stroke="#111" stroke-width="1.55"/>
<path d="M162.3,173.5 L162.37,172.8 L162.44,172.1 L162.51,171.41 L162.57,170.71 L162.64,170.01 L162.71,169.31 L162.78,168.61 L162.85,167.92 L164.2,167.92 L164.22,168.61 L164.3,169.31 L164.42,170.01 L164.6,170.71 L164.82,171.41 L165.1,172.1 L165.42,172.8 L165.8,173.5 Z" fill="#7e7e7e"/>
<line x1="163.6" y1="168.42" x2="163.6" y2="160.7" stroke="#111" stroke-width="1.55"/>
<g clip-path="url(#cA)">
<path d="M56.5,168.92 L56.75,169.37 L57,169.65 L57.25,170.03 L57.5,170.31 L57.75,170.4 L58,170.62 L58.25,171.09 L58.5,171.12 L58.75,171.29 L59,171.69 L59.25,171.69 L59.5,171.95 L59.75,171.97 L60,172.14 L60.25,171.86 L60.5,172.45 L60.75,172.78 L61,172.52 L61.25,172.82 L61.5,172.82 L61.75,172.28 L62,173.04 L62.25,172.93 L62.5,172.69 L62.75,172.47 L63,173.35 L63.25,173 L63.5,173.28 L63.75,173.48 L64,173.71 L64.25,173.92 L64.5,173.39 L64.75,173.8 L65,173.44 L65.2,173.94 L65.25,173.49 L65.5,170.77 L65.75,168.87 L66,167.02 L66.25,165.83 L66.4,164.14 L66.5,166.65 L66.75,169.72 L67,171.48 L67.25,172.1 L67.5,172.45 L67.75,172.9 L68,173.03 L68.25,173.45 L68.5,173.37 L68.75,173.85 L69,173.99 L69.25,174.31 L69.5,174.14 L69.75,173.74 L70,174.51 L70.25,174.64 L70.5,174.56 L70.75,174.16 L71,174.21 M73,155.22 L73.25,161.62 L73.5,165.18 L73.75,167.59 L74,168.92 L74.25,168.95 L74.5,170.25 L74.75,170.38 L75,171.65 L75.25,171.77 L75.5,172.74 L75.75,173.18 L76,172.98 L76.25,173.67 L76.5,173.1 L76.75,172.94 L77,173.47 M79,156.35 L79.25,162.22 L79.5,165.59 L79.75,167.51 L80,168.82 L80.25,169.61 L80.5,170.28 L80.75,171.03 L81,171.93 L81.25,172 L81.5,172.34 L81.75,172.96 L82,172.74 L82.25,173 L82.5,173.8 L82.75,173.4 L83,173.44 L83.25,172.86 M85.25,156.87 L85.5,162.9 L85.75,166.47 L86,168.29 L86.25,168.69 L86.5,169.49 L86.75,170.72 L87,171.64 L87.25,171.48 L87.5,172.15 L87.75,172.67 L88,172.71 L88.25,173 L88.5,173.13 L88.75,173.3 L89,173.58 L89.25,173.29 M91.5,162.4 L91.75,166.37 L92,167.75 L92.25,169.14 L92.5,169.93 L92.75,171 L93,171.19 L93.25,172.14 L93.5,171.91 L93.75,172.46 L94,173.09 L94.25,173.57 L94.5,173.33 L94.75,173.22 L95,173.18 M97.25,164.54 L97.5,167.15 L97.75,168.85 L98,170.29 L98.25,170.4 L98.5,170.94 L98.75,171.56 L99,172.04 L99.25,172.44 L99.5,173.29 L99.75,172.8 L100,172.87 L100.25,173.96 L100.5,173.99 L100.75,174.13 L101,173.57 L101.25,174.03 M103.5,164.83 L103.75,167.47 L104,169.56 L104.25,169.73 L104.5,171.2 L104.75,171.44 L105,172.17 L105.25,172.6 L105.5,173 L105.75,173.01 L106,172.71 L106.25,173.66 L106.5,173.24 L106.75,173.46 L107,173.86 L107.25,173.71 L107.5,173.55 M109.5,164.61 L109.75,168.14 L110,169.16 L110.25,170.73 L110.5,171.47 L110.75,171.78 L111,172.19 L111.25,171.81 L111.5,172.81 L111.75,173.36 L112,172.82 L112.25,173.25 L112.5,173.41 L112.75,173.76 L113,173.7 M115.25,166.72 L115.5,169.18 L115.75,170.1 L116,170.78 L116.25,171.27 L116.5,171.91 L116.75,172.3 L117,172.46 L117.25,172.63 L117.5,173.05 L117.75,173.07 L118,173.67 L118.25,173.95 L118.5,173.67 L118.75,173.39 L119,173.45 L119.25,173.57 L119.5,173.69 M121.5,166.53 L121.75,168.91 L122,170.03 L122.25,171.09 L122.5,171.73 L122.75,171.45 L123,172.13 L123.25,172.51 L123.5,173.3 L123.75,173.65 L124,173.32 L124.25,174.03 L124.5,174.06 L124.75,173.61 L125,173.84 L125.25,173.48 L125.5,174.11 M127.75,168.61 L128,170.7 L128.25,170.76 L128.5,171.29 L128.75,171.62 L129,172.65 L129.25,172.31 L129.5,172.48 L129.75,173.58 L130,173.1 L130.25,174.01 L130.5,173.98 L130.75,174.23 L131,174.39 L131.25,174 L131.5,174.17 L131.75,173.32 L132,173.93 M134,167.61 L134.25,169.6 L134.5,170.72 L134.75,171.69 L135,172.21 L135.25,172.12 L135.5,172.37 L135.75,172.73 L136,172.99 L136.25,173.31 L136.5,173.19 L136.75,173.77 L137,174.35 L137.25,173.86 L137.5,174.21 L137.75,173.59 L138,174.05 M140,170.39 L140.25,171.17 L140.5,171.73 L140.75,172.38 L141,172.09 L141.25,172.36 L141.5,172.57 L141.75,173.25 L142,173.23 L142.25,173.36 L142.5,173.99 L142.75,174.38 L143,173.8 L143.25,174.24 L143.5,173.93 L143.75,174.32 L144,173.95 M146,169.73 L146.25,171.72 L146.5,171.82 L146.75,172.3 L147,172.41 L147.25,172.96 L147.5,173.22 L147.75,173.24 L148,173.41 L148.25,173.86 L148.5,174.17 L148.75,173.84 L149,174.25 L149.25,174.5 L149.5,173.99 L149.75,173.7 L150,173.61 L150.25,173.97 L150.5,173.78 M152.5,170.25 L152.75,171.87 L153,171.86 L153.25,172.28 L153.5,172.8 L153.75,172.31 L154,172.58 L154.25,173.6 L154.5,173.29 L154.75,173.56 L155,173.94 L155.25,174.15 L155.5,173.55 L155.75,173.91 L156,173.99 L156.25,173.98 L156.5,173.6 M158.5,171.61 L158.75,171.57 L159,172.82 L159.25,172.5 L159.5,173.06 L159.75,173.16 L160,172.94 L160.25,173.57 L160.5,173.76 L160.75,174.1 L161,173.71 L161.25,174.3 L161.5,174.57 L161.75,174.29 L162,174.13 L162.25,173.64 M164.25,171.33 L164.5,171.99 L164.75,171.93 L165,173.01 L165.25,172.39 L165.5,172.71 L165.75,173.31 L166,173.43 L166.25,173.62 L166.5,173.9 L166.75,173.87 L167,173.84 L167.25,173.77 L167.5,173.69 L167.75,174.32 L168,174.3 L168.25,173.99 L168.5,174.06 L168.6,173.62 L168.75,172.17 L169,170.02 L169.25,168.34 L169.5,165.42 L169.75,163.78 L169.8,163.11 L170,167.99 L170.25,170.26 L170.5,171.5 L170.75,172.18 L171,172.65 L171.25,173.07 L171.5,172.79 L171.75,173.37 L172,172.86 L172.25,173.25 L172.5,173.28 L172.75,173.47 L173,174.27 L173.25,174.32 L173.5,173.83 L173.75,173.84 L174,174.04 L174.25,174.29 L174.5,174.26 L174.6,174.14 L174.75,172.71 L175,170.13 L175.25,168.24 L175.5,166.02 L175.75,164.39 L175.8,164.03 L176,167.77 L176.25,170.35 L176.5,172.05 L176.75,171.88 L177,172.96 L177.25,173.24 L177.5,173.42 L177.75,172.94 L178,173.32 L178.25,173.58 L178.5,173.83 L178.75,174.35 L179,174.19 L179.25,173.9 L179.5,174.51 L179.75,174.15 L180,174.23 L180.25,174.28 L180.4,173.5 L180.5,173.61 L180.75,171.85 L181,170 L181.25,168.34 L181.5,166.73 L181.6,165.85 L181.75,168.73 L182,170.52 L182.25,172.03 L182.5,172.69 L182.75,172.76 L183,173.03 L183.25,173.53 L183.5,173.54 L183.75,172.94 L184,173.82 L184.25,172.92 L184.5,172.27 L184.75,172.71 L185,172.9 L185.25,173.09 L185.5,173.79 L185.75,174.28 L186,173.65 L186.25,174.14 L186.5,173.95 L186.6,173.42 L186.75,173.51 L187,172.25 L187.25,171.5 L187.5,169.92 L187.75,168.33 L187.8,167.6 L188,170.24 L188.25,171.72 L188.5,172.39 L188.75,172.41 L189,173.03 L189.25,172.96 L189.5,172.72 L189.75,172.74 L190,172.98 L190.25,173.32 L190.5,173.47 L190.75,173.96 L191,174.28 L191.25,174.21 L191.5,174.14 L191.75,174.37 L192,174.02 L192.25,174.17 L192.4,174.48 L192.5,173.82 L192.75,172.87 L193,172.83 L193.25,171.77 L193.5,170.5 L193.6,170.12 L193.75,171.52 L194,172.64 L194.25,172.77 L194.5,172.88 L194.75,173.37 L195,174.23 L195.25,173.85 L195.5,174.38 L195.75,174.35 L196,174.56 L196.25,174.61 L196.5,174.83 L196.75,174.5 L197,174.24 L197.25,174.2 L197.5,174.13 L197.75,174.34 L198,173.81 L198.25,173.68 L198.4,174.07 L198.5,173.76 L198.75,173.4 L199,172.13 L199.25,171.99 L199.5,171.57 L199.6,171.03 L199.75,173.08 L200,173.36 L200.25,173.7 L200.5,174.28 L200.75,174.03 L201,174.5 L201.25,174.22 L201.5,173.99 L201.75,174 L202,174.78 L202.25,174.36 L202.5,174.85 L202.75,174.46 L203,174.85 L203.25,174.14 L203.5,174.01 L203.75,173.89 L204,174.22 L204.25,173.68 L204.4,173.13 L204.5,172.53 L204.75,172.28 L205,171.9 L205.25,174.07 L205.5,176.23 L205.6,177.36 L205.75,178.86 L206,176.9 L206.25,174.3 L206.5,172.78 L206.75,173.46 L207,173.75 L207.25,173.08 L207.5,173.88 L207.75,173.5 L208,174.01 L208.25,174.3 L208.5,174.47 L208.75,173.67 L209,174.01 L209.25,174.34 L209.5,174.64 L209.75,173.67 L210,173.69 L210.25,173.99 L210.4,173.07 L210.5,173.01 L210.75,172.12 L211,171.66 L211.25,171.29 L211.5,170.08 L211.6,170.48 L211.75,171.43 L212,172.47 L212.25,172.71 L212.5,173.39 L212.75,173.02 L213,173.18 L213.25,173.06 L213.5,173.65 L213.75,173.48 L214,173.46 L214.25,173.54 L214.5,174.24 L214.75,174.24 L215,174.43 L215.25,174.14 L215.5,174.24 L215.75,173.84 L216,174.24 L216.25,173.27 L216.4,173.47 L216.5,173.4 L216.75,172.34 L217,170.79 L217.25,170.26 L217.5,170.56 L217.6,170.31 L217.75,171.48 L218,172.53 L218.25,172.77 L218.5,173.61 L218.75,173.65 L219,173.28 L219.25,173.14 L219.5,172.54 L219.75,172.79 L220,173.68 L220.25,173.41 L220.5,174.42 L220.75,174.37 L221,174.66 L221.25,175.52 L221.5,175.28 L221.75,174.99 L222,174.73 L222.2,174.84 L222.25,174.62 L222.5,173.3 L222.75,172.88 L223,173.06 L223.25,171.91 L223.4,172.06 L223.5,172.29 L223.75,173.2 L224,173.27 L224.25,173.58 L224.5,173.39 L224.75,173.07 L225,173.09 L225.25,173 L225.5,173.83 L225.75,173.31 L226,173.39 L226.25,174.5 L226.5,173.9 L226.75,174.84 L227,174.35 L227.25,175.04 L227.5,174.89 L227.75,175.26 L228,174.6 L228.2,174.26 L228.25,174.2 L228.5,173.47 L228.75,172.16 L229,171.72 L229.25,171 L229.4,170.34 L229.5,171.62 L229.75,172.2 L230,172.85 L230.25,172.49 L230.5,173.02 L230.75,173.09 L231,173.46 L231.25,172.89 L231.5,173.28 L231.75,173.63 L232,173.41 L232.25,174.04 L232.5,174.35 L232.75,174.12 L233,174.38 L233.25,174.3 L233.5,173.77 L233.75,173.65 L234,173.94 L234.25,172.18 L234.5,171.27 L234.75,170.09 L235,169.6 L235.2,169.17 L235.25,170.46 L235.5,171.97 L235.75,172.94 L236,173.46 L236.25,173.31 L236.5,173.82 L236.75,173.64 L237,173.81 L237.25,174.72 L237.5,175.19 L237.75,175.63 L238,175.33 L238.25,175.55 L238.5,174.94 L238.75,175.22 L239,174.9 L239.25,174.18 L239.5,174.88 L239.75,174.29 L240,174.36 L240.25,175.09 L240.5,174.65 L240.75,174.78 L241,174.81 L241.25,174.02 L241.5,174.46" fill="none" stroke="#1a1a1a" stroke-width="1.3" stroke-linejoin="round"/>
</g>
<path d="M56.5,168.92 L56.75,169.37 L57,169.65 L57.25,170.03 L57.5,170.31 L57.75,170.4 L58,170.62 L58.25,171.09 L58.5,171.12 L58.75,171.29 L59,171.69 L59.25,171.69 L59.5,171.95 L59.75,171.97 L60,172.14 L60.25,171.86 L60.5,172.45 L60.75,172.78 L61,172.52 L61.25,172.82 L61.5,172.82 L61.75,172.28 L62,173.04 L62.25,172.93 L62.5,172.69 L62.75,172.47" fill="none" stroke="#1a1a1a" stroke-width="1.8" stroke-linejoin="round" />
<line x1="350.2" y1="85" x2="518" y2="85" stroke="#dc8676" stroke-width="1.15"/>
<path d="M357.4,85.8 L360.2,85.8 L359.15,98.7 L358.7,99.7 L358.25,98.7 Z" fill="#aaaaaa"/>
<path d="M358.8,88.67 L359.6,88.67 L359.05,99.2 L358.7,99.7 Z" fill="#747474"/>
<path d="M363.4,85.8 L366.2,85.8 L365.15,198.7 L364.7,199.7 L364.25,198.7 Z" fill="#aaaaaa"/>
<path d="M364.8,113.67 L365.6,113.67 L365.05,199.2 L364.7,199.7 Z" fill="#747474"/>
<path d="M369.2,85.8 L372,85.8 L370.95,198.1 L370.5,199.1 L370.05,198.1 Z" fill="#aaaaaa"/>
<path d="M370.6,113.53 L371.4,113.53 L370.85,198.6 L370.5,199.1 Z" fill="#747474"/>
<path d="M374.8,85.8 L377.6,85.8 L376.55,192.5 L376.1,193.5 L375.65,192.5 Z" fill="#aaaaaa"/>
<path d="M376.2,112.12 L377,112.12 L376.45,193 L376.1,193.5 Z" fill="#747474"/>
<path d="M380.5,85.8 L383.3,85.8 L382.25,189 L381.8,190 L381.35,189 Z" fill="#aaaaaa"/>
<path d="M381.9,111.25 L382.7,111.25 L382.15,189.5 L381.8,190 Z" fill="#747474"/>
<path d="M386.4,85.8 L389.2,85.8 L388.15,181.9 L387.7,182.9 L387.25,181.9 Z" fill="#aaaaaa"/>
<path d="M387.8,109.47 L388.6,109.47 L388.05,182.4 L387.7,182.9 Z" fill="#747474"/>
<path d="M392.2,85.8 L395,85.8 L393.95,176.1 L393.5,177.1 L393.05,176.1 Z" fill="#aaaaaa"/>
<path d="M393.6,108.03 L394.4,108.03 L393.85,176.6 L393.5,177.1 Z" fill="#747474"/>
<path d="M397.8,85.8 L400.6,85.8 L399.55,169.5 L399.1,170.5 L398.65,169.5 Z" fill="#aaaaaa"/>
<path d="M399.2,106.38 L400,106.38 L399.45,170 L399.1,170.5 Z" fill="#747474"/>
<path d="M403.4,85.8 L406.2,85.8 L405.15,165.1 L404.7,166.1 L404.25,165.1 Z" fill="#aaaaaa"/>
<path d="M404.8,105.28 L405.6,105.28 L405.05,165.6 L404.7,166.1 Z" fill="#747474"/>
<path d="M409.1,85.8 L411.9,85.8 L410.85,158.4 L410.4,159.4 L409.95,158.4 Z" fill="#aaaaaa"/>
<path d="M410.5,103.6 L411.3,103.6 L410.75,158.9 L410.4,159.4 Z" fill="#747474"/>
<path d="M414.8,85.8 L417.6,85.8 L416.55,154 L416.1,155 L415.65,154 Z" fill="#aaaaaa"/>
<path d="M416.2,102.5 L417,102.5 L416.45,154.5 L416.1,155 Z" fill="#747474"/>
<path d="M420.6,85.8 L423.4,85.8 L422.35,146.7 L421.9,147.7 L421.45,146.7 Z" fill="#aaaaaa"/>
<path d="M422,100.67 L422.8,100.67 L422.25,147.2 L421.9,147.7 Z" fill="#747474"/>
<path d="M426.3,85.8 L429.1,85.8 L428.05,138.8 L427.6,139.8 L427.15,138.8 Z" fill="#aaaaaa"/>
<path d="M427.7,98.7 L428.5,98.7 L427.95,139.3 L427.6,139.8 Z" fill="#747474"/>
<path d="M432,85.8 L434.8,85.8 L433.75,134.3 L433.3,135.3 L432.85,134.3 Z" fill="#aaaaaa"/>
<path d="M433.4,97.58 L434.2,97.58 L433.65,134.8 L433.3,135.3 Z" fill="#747474"/>
<path d="M437.7,85.8 L440.5,85.8 L439.45,129.8 L439,130.8 L438.55,129.8 Z" fill="#aaaaaa"/>
<path d="M439.1,96.45 L439.9,96.45 L439.35,130.3 L439,130.8 Z" fill="#747474"/>
<path d="M443.3,85.8 L446.1,85.8 L445.05,123.4 L444.6,124.4 L444.15,123.4 Z" fill="#aaaaaa"/>
<path d="M444.7,94.85 L445.5,94.85 L444.95,123.9 L444.6,124.4 Z" fill="#747474"/>
<path d="M449.1,85.8 L451.9,85.8 L450.85,117.4 L450.4,118.4 L449.95,117.4 Z" fill="#aaaaaa"/>
<path d="M450.5,93.35 L451.3,93.35 L450.75,117.9 L450.4,118.4 Z" fill="#747474"/>
<path d="M454.8,85.8 L457.6,85.8 L456.55,112.5 L456.1,113.5 L455.65,112.5 Z" fill="#aaaaaa"/>
<path d="M456.2,92.12 L457,92.12 L456.45,113 L456.1,113.5 Z" fill="#747474"/>
<path d="M460.6,85.8 L463.4,85.8 L462.35,109.6 L461.9,110.6 L461.45,109.6 Z" fill="#aaaaaa"/>
<path d="M462,91.4 L462.8,91.4 L462.25,110.1 L461.9,110.6 Z" fill="#747474"/>
<path d="M466.4,85.8 L469.2,85.8 L468.15,105.6 L467.7,106.6 L467.25,105.6 Z" fill="#aaaaaa"/>
<path d="M467.8,90.4 L468.6,90.4 L468.05,106.1 L467.7,106.6 Z" fill="#747474"/>
<path d="M472,85.8 L474.8,85.8 L473.75,101.7 L473.3,102.7 L472.85,101.7 Z" fill="#aaaaaa"/>
<path d="M473.4,89.42 L474.2,89.42 L473.65,102.2 L473.3,102.7 Z" fill="#747474"/>
<path d="M477.6,85.8 L480.4,85.8 L479.35,98.5 L478.9,99.5 L478.45,98.5 Z" fill="#aaaaaa"/>
<path d="M479,88.62 L479.8,88.62 L479.25,99 L478.9,99.5 Z" fill="#747474"/>
<path d="M483.3,85.8 L486.1,85.8 L485.05,100.8 L484.6,101.8 L484.15,100.8 Z" fill="#aaaaaa"/>
<path d="M484.7,89.2 L485.5,89.2 L484.95,101.3 L484.6,101.8 Z" fill="#747474"/>
<path d="M488.9,85.8 L491.7,85.8 L490.65,96.1 L490.2,97.1 L489.75,96.1 Z" fill="#aaaaaa"/>
<path d="M490.3,88.03 L491.1,88.03 L490.55,96.6 L490.2,97.1 Z" fill="#747474"/>
<path d="M494.8,85.8 L497.6,85.8 L496.55,98.3 L496.1,99.3 L495.65,98.3 Z" fill="#aaaaaa"/>
<path d="M496.2,88.58 L497,88.58 L496.45,98.8 L496.1,99.3 Z" fill="#747474"/>
<path d="M500.4,85.8 L503.2,85.8 L502.15,94.4 L501.7,95.4 L501.25,94.4 Z" fill="#aaaaaa"/>
<path d="M501.8,87.6 L502.6,87.6 L502.05,94.9 L501.7,95.4 Z" fill="#747474"/>
<path d="M506.1,85.8 L508.9,85.8 L507.85,93.8 L507.4,94.8 L506.95,93.8 Z" fill="#aaaaaa"/>
<path d="M507.5,87.45 L508.3,87.45 L507.75,94.3 L507.4,94.8 Z" fill="#747474"/>
<path d="M511.7,85.8 L514.5,85.8 L513.45,92.7 L513,93.7 L512.55,92.7 Z" fill="#aaaaaa"/>
<path d="M513.1,87.17 L513.9,87.17 L513.35,93.2 L513,93.7 Z" fill="#747474"/>
<g clip-path="url(#cB)">
<path d="M349.8,66.8 L350.5,64.3 L351.2,65.8 L351.8,68.2 L352.3,67.4 L352.9,72 L353.4,76.5 L353.8,74.8 L354.3,80.5 L354.8,84.6 L355.3,85.6 L355.7,84.73 L355.95,84.92 L356.2,84.81 L356.45,85.29 L356.7,85.3 L356.95,84.74 L357.2,84.52 L357.45,84.76 L357.7,84.89 M359.45,86.2 L359.7,85.38 L359.95,85.28 L360.2,85.32 L360.45,85.3 L360.7,85.16 L360.95,84.57 L361.2,84.66 L361.45,83.52 L361.7,83.45 L361.95,83.94 L362.2,84.11 L362.45,83.92 L362.7,84.31 L362.95,85.31 L363.2,84.43 L363.45,84.57 L363.7,85.05 M365.45,95.9 L365.7,91.69 L365.95,88.42 L366.2,87.44 L366.45,86.5 L366.7,86.4 L366.95,85.52 L367.2,84.35 L367.45,84.24 L367.7,83.29 L367.95,83.51 L368.2,83.73 L368.45,84.86 L368.7,84.84 L368.95,84.86 L369.2,84.58 L369.45,85.01 L369.7,85.23 M371.2,96.94 L371.45,92.12 L371.7,89.35 L371.95,87.73 L372.2,86.81 L372.45,86.01 L372.7,85.93 L372.95,85.24 L373.2,84.33 L373.45,83.18 L373.7,83.24 L373.95,83.82 L374.2,84.27 L374.45,84.67 L374.7,84.92 L374.95,85.16 L375.2,84.71 M376.95,92.86 L377.2,90.38 L377.45,87.85 L377.7,87.14 L377.95,86.79 L378.2,85.99 L378.45,85.7 L378.7,84.91 L378.95,84.54 L379.2,84.06 L379.45,83.63 L379.7,84.74 L379.95,85.11 L380.2,85.17 L380.45,84.88 L380.7,85.36 L380.95,85.58 M382.45,97.15 L382.7,92.37 L382.95,88.9 L383.2,87.81 L383.45,87.55 L383.7,86.39 L383.95,85.78 L384.2,85.99 L384.45,85.37 L384.7,84.06 L384.95,83.74 L385.2,83.38 L385.45,83.19 L385.7,83.52 L385.95,84.71 L386.2,84 L386.45,84.51 L386.7,84.67 M388.45,93.76 L388.7,90.78 L388.95,87.89 L389.2,87.13 L389.45,86.77 L389.7,85.99 L389.95,85.66 L390.2,84.32 L390.45,83.87 L390.7,84.26 L390.95,83.11 L391.2,84.16 L391.45,83.66 L391.7,85.11 L391.95,85.13 L392.2,85.28 L392.45,84.66 L392.7,84.53 M394.2,94.67 L394.45,90.29 L394.7,87.99 L394.95,87.29 L395.2,87.37 L395.45,86.06 L395.7,85.44 L395.95,85.01 L396.2,84.55 L396.45,84.44 L396.7,84.82 L396.95,83.66 L397.2,83.77 L397.45,84.76 L397.7,85.02 L397.95,85.23 L398.2,84.56 M399.95,91.58 L400.2,88.88 L400.45,87.53 L400.7,86.91 L400.95,86.32 L401.2,85.91 L401.45,85.63 L401.7,84.2 L401.95,84.11 L402.2,84.2 L402.45,84.07 L402.7,83.51 L402.95,84.87 L403.2,85.15 L403.45,84.63 L403.7,84.81 M405.45,92.92 L405.7,89.68 L405.95,88.41 L406.2,87.22 L406.45,86.51 L406.7,86.39 L406.95,85.09 L407.2,85.07 L407.45,84.37 L407.7,83.5 L407.95,83.65 L408.2,83.11 L408.45,83.31 L408.7,83.33 L408.95,83.59 L409.2,84.03 L409.45,84.71 M411.2,90.63 L411.45,88.62 L411.7,87.68 L411.95,86.53 L412.2,86.46 L412.45,85.6 L412.7,85.87 L412.95,84.61 L413.2,84 L413.45,83.52 L413.7,83.57 L413.95,83.58 L414.2,83.15 L414.45,83.38 L414.7,84.05 L414.95,83.87 L415.2,84.7 M416.95,90.16 L417.2,88.57 L417.45,87.02 L417.7,86.96 L417.95,86.39 L418.2,85.54 L418.45,84.95 L418.7,84.73 L418.95,84.32 L419.2,84.27 L419.45,84.81 L419.7,85.36 L419.95,85.21 L420.2,84.69 L420.45,84.75 L420.7,84.92 L420.95,85.19 M422.7,90.17 L422.95,88.33 L423.2,87.42 L423.45,86.86 L423.7,86.58 L423.95,85.63 L424.2,85.39 L424.45,84.15 L424.7,84.62 L424.95,83.81 L425.2,83.99 L425.45,84.78 L425.7,84.43 L425.95,84.61 L426.2,85.47 L426.45,85.19 L426.7,84.55 M428.45,88.92 L428.7,87.59 L428.95,86.84 L429.2,86.12 L429.45,85.41 L429.7,86.19 L429.95,85.54 L430.2,84.49 L430.45,84.61 L430.7,84.73 L430.95,84.85 L431.2,83.67 L431.45,83.64 L431.7,84.33 L431.95,84.45 L432.2,85.21 L432.45,85.3 M433.95,91.17 L434.2,87.72 L434.45,87.58 L434.7,86.44 L434.95,86.12 L435.2,85.25 L435.45,84.96 L435.7,84.58 L435.95,84.33 L436.2,83.35 L436.45,82.72 L436.7,83.57 L436.95,83.52 L437.2,83.9 L437.45,84.09 L437.7,84.64 L437.95,85.53 L438.2,84.6 M439.7,89.43 L439.95,87.17 L440.2,86.64 L440.45,85.98 L440.7,85.52 L440.95,86.08 L441.2,84.93 L441.45,85.19 L441.7,84.8 L441.95,83.31 L442.2,83.86 L442.45,83 L442.7,82.74 L442.95,82.87 L443.2,83.01 L443.45,83.98 L443.7,84.27 M445.45,88.11 L445.7,86.56 L445.95,85.72 L446.2,85.52 L446.45,85.57 L446.7,85.47 L446.95,84.77 L447.2,84.99 L447.45,84.13 L447.7,84.51 L447.95,84.43 L448.2,84.03 L448.45,84.93 L448.7,84.72 L448.95,85.05 L449.2,85.16 L449.45,85.18 M451.2,88.21 L451.45,86.85 L451.7,85.75 L451.95,86.15 L452.2,86.16 L452.45,84.97 L452.7,84.91 L452.95,83.37 L453.2,82.36 L453.45,82.9 L453.7,82.9 L453.95,84.17 L454.2,84.76 L454.45,84.57 L454.7,85.08 L454.95,85.46 L455.2,85 M456.95,87.39 L457.2,86.33 L457.45,85.62 L457.7,86.09 L457.95,85.92 L458.2,85.18 L458.45,85.14 L458.7,84.27 L458.95,83.51 L459.2,82.49 L459.45,81.98 L459.7,82.93 L459.95,83.43 L460.2,83.57 L460.45,84.34 L460.7,84.91 L460.95,84.72 M462.7,86.7 L462.95,86.12 L463.2,85.46 L463.45,85.48 L463.7,85.53 L463.95,84.75 L464.2,84.31 L464.45,84.33 L464.7,83.48 L464.95,83.42 L465.2,82.76 L465.45,82.64 L465.7,83.34 L465.95,84.17 L466.2,84.55 L466.45,84.57 L466.7,84.75 M468.45,86.91 L468.7,85.87 L468.95,86.31 L469.2,85.16 L469.45,85.48 L469.7,85.2 L469.95,84.35 L470.2,83.76 L470.45,84.12 L470.7,83.57 L470.95,83.53 L471.2,84.08 L471.45,83.65 L471.7,84.91 L471.95,85.29 L472.2,84.69 L472.45,84.97 M473.95,86.96 L474.2,86.6 L474.45,86.02 L474.7,85.5 L474.95,85.59 L475.2,85.17 L475.45,85.35 L475.7,84.3 L475.95,84.28 L476.2,84.12 L476.45,83.93 L476.7,83.77 L476.95,84.27 L477.2,85.11 L477.45,84.68 L477.7,85.33 L477.95,85.02 M479.7,86.69 L479.95,85.35 L480.2,85.06 L480.45,85.91 L480.7,85.54 L480.95,85.1 L481.2,85.18 L481.45,84.2 L481.7,84.44 L481.95,84.45 L482.2,84.38 L482.45,83.99 L482.7,84.18 L482.95,84.99 L483.2,85.45 L483.45,84.58 L483.7,84.42 M485.45,85.63 L485.7,85.48 L485.95,85.74 L486.2,84.97 L486.45,84.71 L486.7,85.11 L486.95,84.57 L487.2,84.95 L487.45,83.5 L487.7,83.98 L487.95,83.24 L488.2,83.66 L488.45,83.32 L488.7,83.83 L488.95,83.77 L489.2,84.02 M490.95,86.2 L491.2,85.7 L491.45,85.54 L491.7,85.05 L491.95,84.65 L492.2,84.57 L492.45,84.78 L492.7,84.38 L492.95,84.59 L493.2,84.02 L493.45,84.48 L493.7,84.26 L493.95,84.4 L494.2,84.64 L494.45,84.59 L494.7,84.69 L494.95,84.7 L495.2,84.48 M496.95,86.64 L497.2,85.24 L497.45,85.27 L497.7,85.91 L497.95,84.77 L498.2,85.01 L498.45,84.6 L498.7,83.93 L498.95,84.49 L499.2,83.85 L499.45,83.57 L499.7,84.48 L499.95,84.25 L500.2,85.27 L500.45,85.46 L500.7,85.5 M502.45,86.11 L502.7,85.06 L502.95,85.92 L503.2,84.71 L503.45,85.75 L503.7,84.7 L503.95,84.27 L504.2,84.67 L504.45,84.05 L504.7,84.15 L504.95,83.87 L505.2,84.27 L505.45,83.97 L505.7,85.02 L505.95,85.01 L506.2,85.57 L506.45,84.42 M508.2,85.76 L508.45,85.6 L508.7,84.75 L508.95,84.99 L509.2,85.45 L509.45,84.75 L509.7,84.74 L509.95,84.18 L510.2,84.08 L510.45,84.38 L510.7,84.63 L510.95,85.14 L511.2,84.83 L511.45,84.65 L511.7,84.82 L511.95,84.48 M513.7,85.62 L513.95,85.97 L514.2,85.41 L514.45,85.04 L514.7,85.09 L514.95,84.51 L515.2,84.93 L515.45,84.38 L515.7,83.43 L515.95,83.68 L516.2,83.33 L516.45,83.73 L516.7,84.28 L516.95,84.6 L517.2,85.14 L517.45,85.18 L517.7,85.28 L517.95,84.53" fill="none" stroke="#2a2a2a" stroke-width="1.0" stroke-linejoin="round"/>
</g>
<rect x="59.65" y="239.25" width="5.5" height="5.5" fill="#0d0d0d"/>
<rect x="67.15" y="236.15" width="5.5" height="5.5" fill="#0d0d0d"/>
<rect x="73.85" y="249.35" width="5.5" height="5.5" fill="#0d0d0d"/>
<rect x="80.35" y="265.65" width="5.5" height="5.5" fill="#0d0d0d"/>
<rect x="87.65" y="284.95" width="5.5" height="5.5" fill="#0d0d0d"/>
<rect x="94.75" y="287.85" width="5.5" height="5.5" fill="#0d0d0d"/>
<rect x="101.95" y="297.15" width="5.5" height="5.5" fill="#0d0d0d"/>
<rect x="108.65" y="301.45" width="5.5" height="5.5" fill="#0d0d0d"/>
<rect x="116.15" y="303.15" width="5.5" height="5.5" fill="#0d0d0d"/>
<rect x="122.75" y="313.45" width="5.5" height="5.5" fill="#0d0d0d"/>
<rect x="130.15" y="313.45" width="5.5" height="5.5" fill="#0d0d0d"/>
<rect x="137.55" y="334.75" width="5.5" height="5.5" fill="#0d0d0d"/>
<rect x="144.55" y="339.25" width="5.5" height="5.5" fill="#0d0d0d"/>
<rect x="151.95" y="338.35" width="5.5" height="5.5" fill="#0d0d0d"/>
<rect x="159.25" y="346.95" width="5.5" height="5.5" fill="#0d0d0d"/>
<rect x="167.25" y="338.35" width="5.5" height="5.5" fill="#0d0d0d"/>
<rect x="174.25" y="348.25" width="5.5" height="5.5" fill="#0d0d0d"/>
<rect x="182.25" y="354.25" width="5.5" height="5.5" fill="#0d0d0d"/>
<rect x="189.85" y="358.25" width="5.5" height="5.5" fill="#0d0d0d"/>
<rect x="197.25" y="362.95" width="5.5" height="5.5" fill="#0d0d0d"/>
<rect x="204.85" y="362.95" width="5.5" height="5.5" fill="#0d0d0d"/>
<rect x="212.75" y="371.15" width="5.5" height="5.5" fill="#0d0d0d"/>
<rect x="220.45" y="379.25" width="5.5" height="5.5" fill="#0d0d0d"/>
<rect x="228.15" y="377.65" width="5.5" height="5.5" fill="#0d0d0d"/>
<rect x="234.65" y="368.95" width="5.5" height="5.5" fill="#0d0d0d"/>
<path d="M56.3,230.97 L59.38,233.87 L62.46,237.34 L65.53,241.27 L68.61,245.55 L71.69,250.07 L74.77,254.72 L77.85,259.41 L80.92,264.05 L84,268.62 L87.08,273.12 L90.16,277.54 L93.24,281.84 L96.31,286.04 L99.39,290.09 L102.47,294 L105.55,297.72 L108.63,301.25 L111.7,304.59 L114.78,307.78 L117.86,310.87 L120.94,313.89 L124.02,316.88 L127.09,319.81 L130.17,322.68 L133.25,325.48 L136.33,328.19 L139.41,330.8 L142.48,333.33 L145.56,335.76 L148.64,338.09 L151.72,340.32 L154.79,342.45 L157.87,344.48 L160.95,346.41 L164.03,348.24 L167.11,349.96 L170.18,351.58 L173.26,353.09 L176.34,354.52 L179.42,355.88 L182.5,357.19 L185.57,358.47 L188.65,359.72 L191.73,360.97 L194.81,362.22 L197.89,363.48 L200.96,364.74 L204.04,365.98 L207.12,367.21 L210.2,368.42 L213.28,369.6 L216.35,370.75 L219.43,371.87 L222.51,372.93 L225.59,373.95 L228.67,374.91 L231.74,375.81 L234.82,376.64 L237.9,377.4" fill="none" stroke="#9a3a3a" stroke-width="1.0" stroke-linejoin="round" />
<rect x="353.6" y="378.3" width="5.2" height="5.6" fill="#0d0d0d"/>
<rect x="358.8" y="375.9" width="5.2" height="5.6" fill="#0d0d0d"/>
<rect x="364.5" y="368.8" width="5.2" height="5.6" fill="#0d0d0d"/>
<rect x="370.1" y="368.4" width="5.2" height="5.6" fill="#0d0d0d"/>
<rect x="375.8" y="348.6" width="5.2" height="5.6" fill="#0d0d0d"/>
<rect x="381.7" y="344" width="5.2" height="5.6" fill="#0d0d0d"/>
<rect x="387.1" y="337" width="5.2" height="5.6" fill="#0d0d0d"/>
<rect x="392.9" y="340.2" width="5.2" height="5.6" fill="#0d0d0d"/>
<rect x="398.6" y="334.7" width="5.2" height="5.6" fill="#0d0d0d"/>
<rect x="404.4" y="328.8" width="5.2" height="5.6" fill="#0d0d0d"/>
<rect x="410.4" y="308.7" width="5.2" height="5.6" fill="#0d0d0d"/>
<rect x="416.2" y="291" width="5.2" height="5.6" fill="#0d0d0d"/>
<rect x="422" y="294.4" width="5.2" height="5.6" fill="#0d0d0d"/>
<rect x="428.1" y="290.7" width="5.2" height="5.6" fill="#0d0d0d"/>
<rect x="434" y="271.3" width="5.2" height="5.6" fill="#0d0d0d"/>
<rect x="440.1" y="270.7" width="5.2" height="5.6" fill="#0d0d0d"/>
<rect x="446.2" y="258.7" width="5.2" height="5.6" fill="#0d0d0d"/>
<rect x="452.6" y="257.6" width="5.2" height="5.6" fill="#0d0d0d"/>
<rect x="458.7" y="254.7" width="5.2" height="5.6" fill="#0d0d0d"/>
<rect x="464.8" y="244" width="5.2" height="5.6" fill="#0d0d0d"/>
<rect x="471.1" y="236.8" width="5.2" height="5.6" fill="#0d0d0d"/>
<rect x="477.2" y="248.8" width="5.2" height="5.6" fill="#0d0d0d"/>
<rect x="483.8" y="230.9" width="5.2" height="5.6" fill="#0d0d0d"/>
<rect x="490.3" y="242.9" width="5.2" height="5.6" fill="#0d0d0d"/>
<rect x="496.9" y="228.5" width="5.2" height="5.6" fill="#0d0d0d"/>
<rect x="503" y="247.3" width="5.2" height="5.6" fill="#0d0d0d"/>
<rect x="509.5" y="233.6" width="5.2" height="5.6" fill="#0d0d0d"/>
<path d="M351.2,377.82 L353.92,377.5 L356.63,376.87 L359.35,375.96 L362.07,374.77 L364.78,373.3 L367.5,371.57 L370.22,369.59 L372.94,367.35 L375.65,364.86 L378.37,362.15 L381.09,359.2 L383.8,356.03 L386.52,352.66 L389.24,349.07 L391.95,345.29 L394.67,341.32 L397.39,337.2 L400.11,332.95 L402.82,328.6 L405.54,324.18 L408.26,319.72 L410.97,315.24 L413.69,310.78 L416.41,306.36 L419.12,302.02 L421.84,297.77 L424.56,293.66 L427.27,289.71 L429.99,285.93 L432.71,282.34 L435.43,278.92 L438.14,275.67 L440.86,272.6 L443.58,269.68 L446.29,266.93 L449.01,264.33 L451.73,261.89 L454.44,259.59 L457.16,257.44 L459.88,255.43 L462.59,253.55 L465.31,251.81 L468.03,250.19 L470.75,248.69 L473.46,247.32 L476.18,246.06 L478.9,244.91 L481.61,243.86 L484.33,242.92 L487.05,242.08 L489.76,241.34 L492.48,240.68 L495.2,240.11 L497.92,239.62 L500.63,239.21 L503.35,238.88 L506.07,238.61 L508.78,238.42 L511.5,238.28" fill="none" stroke="#b06a70" stroke-width="0.9" stroke-linejoin="round" />
</g>
</svg>
</body></html>
